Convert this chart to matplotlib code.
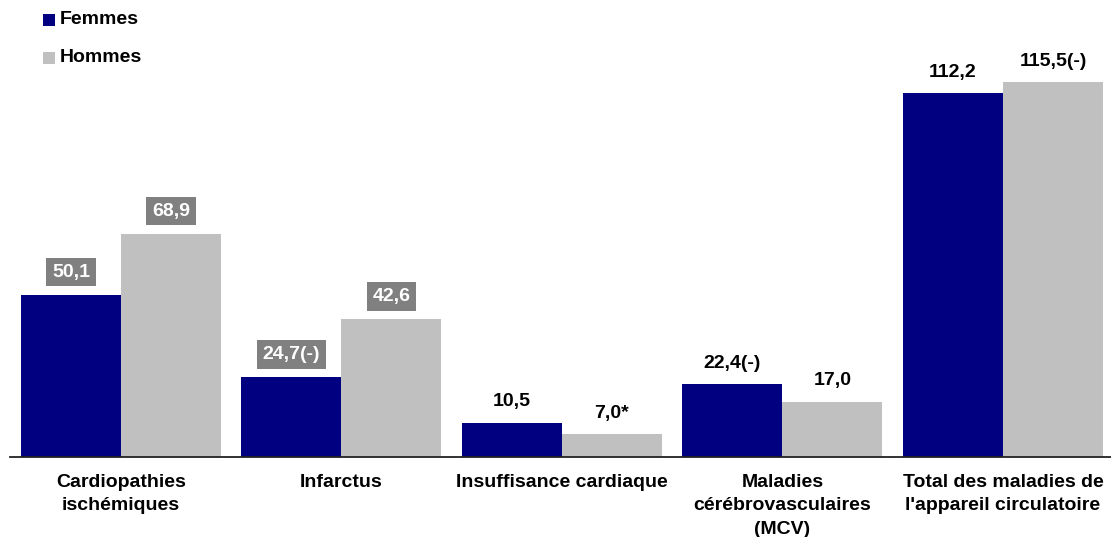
import numpy as np
import matplotlib
matplotlib.use("Agg")
import matplotlib.pyplot as plt
from matplotlib.patches import Rectangle

plt.rcParams['font.family'] = ['Liberation Sans', 'DejaVu Sans']
plt.rcParams['font.weight'] = 'bold'

categories = ["Cardiopathies\nischémiques", "Infarctus", "Insuffisance cardiaque",
              "Maladies\ncérébrovasculaires\n(MCV)", "Total des maladies de\nl'appareil circulatoire"]
series = ["Femmes", "Hommes"]
femmes = [50.1, 24.7, 10.5, 22.4, 112.2]
hommes = [68.9, 42.6, 7.0, 17.0, 115.5]
femmes_labels = ["50,1", "24,7(-)", "10,5", "22,4(-)", "112,2"]
hommes_labels = ["68,9", "42,6", "7,0*", "17,0", "115,5(-)"]
femmes_boxed = [True, True, False, False, False]
hommes_boxed = [True, True, False, False, False]

colors = ["#000080", "#c0c0c0"]

W, H = 1111, 537
fig = plt.figure(figsize=(W / 100, H / 100), dpi=100)
ax = fig.add_axes([10 / W, (H - 457) / H, 1 - 10 / W, 457 / H])

x = np.arange(len(categories))
w = 0.4535
bars_f = ax.bar(x - w / 2, femmes, w, color=colors[0])
bars_h = ax.bar(x + w / 2, hommes, w, color=colors[1])

def label(bars, texts, boxed):
    for b, t, bx in zip(bars, texts, boxed):
        cx = b.get_x() + b.get_width() / 2
        if bx:
            ax.annotate(t, (cx, b.get_height()), xytext=(0, 10), textcoords='offset points',
                        ha='center', va='bottom', fontsize=14, fontweight='bold', color='white',
                        bbox=dict(boxstyle='square,pad=0.3', fc='#808080', ec='none'))
        else:
            ax.annotate(t, (cx, b.get_height()), xytext=(0, 9), textcoords='offset points',
                        ha='center', va='bottom', fontsize=14, fontweight='bold', color='black')

label(bars_f, femmes_labels, femmes_boxed)
label(bars_h, hommes_labels, hommes_boxed)

ax.set_xlim(-0.503, 4.49)
ax.set_ylim(0, 140.9)
ax.set_xticks(x)
ax.set_xticklabels(categories, fontsize=14, fontweight='bold', linespacing=1.5)
ax.tick_params(axis='x', length=0, pad=12)
ax.set_yticks([])
for s in ['top', 'right', 'left']:
    ax.spines[s].set_visible(False)
ax.spines['bottom'].set_color('#222222')
ax.spines['bottom'].set_linewidth(1.3)

# legend
for i, (name, c) in enumerate(zip(series, colors)):
    yc = 19.5 + i * 38.5
    fig.patches.append(Rectangle((43 / W, 1 - (yc + 6) / H), 12 / W, 12 / H,
                                 transform=fig.transFigure, fc=c, ec='none'))
    fig.text(60 / W, 1 - yc / H, name, fontsize=14, fontweight='bold', va='center', ha='left')

fig.savefig("out.png", dpi=100)
